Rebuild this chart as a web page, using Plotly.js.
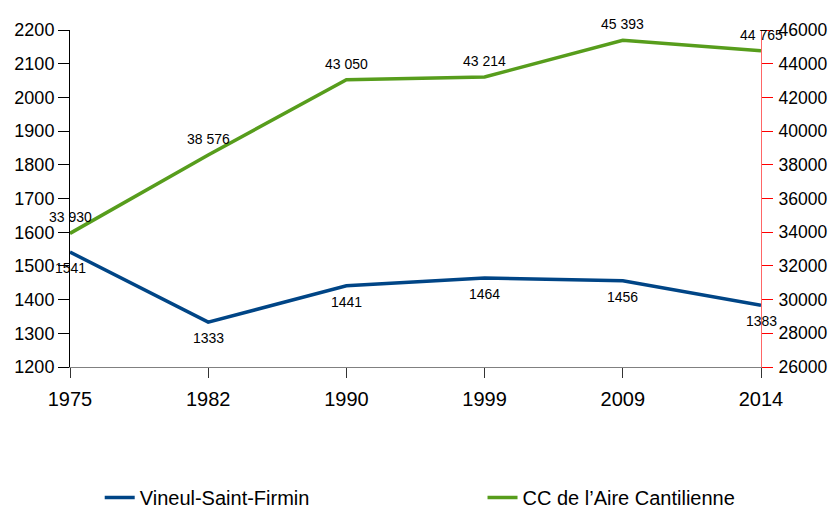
<!DOCTYPE html>
<html>
<head>
<meta charset="utf-8">
<script src="https://cdn.plot.ly/plotly-3.0.1.min.js"></script>
<style>html,body{margin:0;padding:0;background:#fff;}#chart{width:830px;height:513px;}</style>
</head>
<body>
<div id="chart"></div>
<script>
const years = ['1975', '1982', '1990', '1999', '2009', '2014'];
const vineuil = [1541, 1333, 1441, 1464, 1456, 1383];
const cc = [33930, 38576, 43050, 43214, 45393, 44765];
const vineuilLabels = ['1541', '1333', '1441', '1464', '1456', '1383'];
const ccLabels = ['33 930', '38 576', '43 050', '43 214', '45 393', '44 765'];
const seriesNames = ['Vineul-Saint-Firmin', 'CC de l\u2019Aire Cantilienne'];

const blue = '#004586';
const green = '#579d1c';
const font = 'Liberation Sans, Arial, sans-serif';

const traces = [
  {x: years, y: vineuil, name: seriesNames[0], type: 'scatter', mode: 'lines',
   line: {color: blue, width: 3.5}, yaxis: 'y', cliponaxis: false, legend: 'legend'},
  {x: years, y: cc, name: seriesNames[1], type: 'scatter', mode: 'lines',
   line: {color: green, width: 3.5}, yaxis: 'y2', cliponaxis: false, legend: 'legend2'}
];

const annotations = [];
years.forEach((yr, i) => {
  annotations.push({x: i, y: vineuil[i], xref: 'x', yref: 'y', text: vineuilLabels[i],
    showarrow: false, yshift: -16, font: {family: font, size: 14, color: '#000'}});
  annotations.push({x: i, y: cc[i], xref: 'x', yref: 'y2', text: ccLabels[i],
    showarrow: false, yshift: 16, font: {family: font, size: 14, color: '#000'}});
});

const legendBase = {
  orientation: 'h', yref: 'container', y: 0.03, xanchor: 'left', yanchor: 'middle',
  font: {family: font, size: 20, color: '#000'}, bgcolor: 'rgba(0,0,0,0)'
};

const layout = {
  width: 830, height: 513,
  margin: {l: 70, r: 69, t: 30, b: 146, pad: 0},
  paper_bgcolor: '#fff', plot_bgcolor: '#fff',
  showlegend: true,
  font: {family: font, color: '#000'},
  xaxis: {
    type: 'category', range: [0, 5], showgrid: false, zeroline: false,
    showline: true, linecolor: '#808080', linewidth: 1,
    ticks: 'outside', ticklen: 10, tickcolor: '#333', tickwidth: 1,
    tickfont: {family: font, size: 20, color: '#000'}, ticklabelstandoff: 4
  },
  yaxis: {
    range: [1200, 2200], dtick: 100, tick0: 1200, showgrid: false, zeroline: false,
    showline: true, linecolor: '#000', linewidth: 1,
    ticks: 'outside', ticklen: 11, tickcolor: '#000', tickwidth: 1,
    tickfont: {family: font, size: 18, color: '#000'}
  },
  yaxis2: {
    range: [26000, 46000], dtick: 2000, tick0: 26000, overlaying: 'y', side: 'right',
    showgrid: false, zeroline: false,
    showline: true, linecolor: '#ff6666', linewidth: 1,
    ticks: 'outside', ticklen: 11, tickcolor: '#ff0000', tickwidth: 1,
    tickfont: {family: font, size: 17.5, color: '#000'}, tickformat: 'd',
    ticklabelstandoff: 2
  },
  legend: Object.assign({}, legendBase, {x: 0.043}),
  legend2: Object.assign({}, legendBase, {x: 0.597}),
  annotations: annotations
};

Plotly.newPlot('chart', traces, layout, {displayModeBar: false, staticPlot: true});
</script>
</body>
</html>
